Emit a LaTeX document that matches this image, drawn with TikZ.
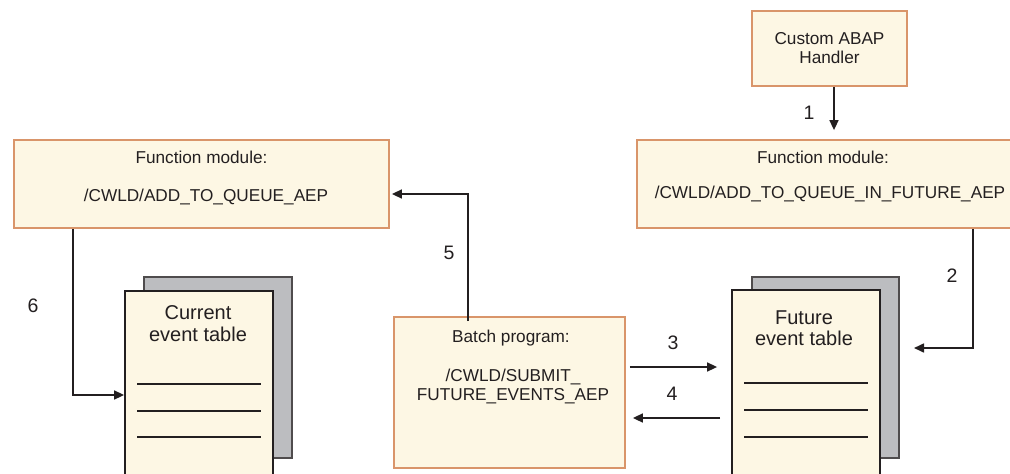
\documentclass[tikz,border=0pt]{standalone}
\usepackage{fontspec}
\setmainfont{Liberation Sans}
\usetikzlibrary{arrows.meta}
\definecolor{cream}{HTML}{FDF7E4}
\definecolor{boxborder}{HTML}{D9956A}
\definecolor{shadowgray}{HTML}{BCBDC0}
\definecolor{ink}{HTML}{231F20}
\tikzset{
  box/.style={draw=boxborder, line width=1.8pt, fill=cream, rectangle, inner sep=0pt},
  pageback/.style={draw=ink!80, line width=1.2pt, fill=shadowgray, rectangle, inner sep=0pt},
  pagefront/.style={draw=ink, line width=1.8pt, fill=cream, rectangle, inner sep=0pt},
  boxtext/.style={font=\fontsize{17.2}{19}\selectfont, text=ink, inner sep=0pt, align=center},
  tabletext/.style={font=\fontsize{20}{21.5}\selectfont, text=ink, inner sep=0pt, align=center},
  numtext/.style={font=\fontsize{19.5}{22}\selectfont, text=ink, inner sep=0pt},
  arr/.style={draw=ink, line width=1.6pt, -{Triangle[length=10pt,width=9pt]}},
  rule/.style={draw=ink, line width=1.6pt},
}
\begin{document}
\begin{tikzpicture}[x=1pt,y=-1pt]
\useasboundingbox (0,0) rectangle (1010,474);
\clip (0,0) rectangle (1010,474);
\fill[white] (0,0) rectangle (1010,474);

% boxes
\node[box, minimum width=155pt, minimum height=75pt] (custom) at (829.5,48.5) {};
\node[boxtext] (customtxt) at (829.5,48.5) {Custom ABAP\\Handler};

\node[box, minimum width=375pt, minimum height=88pt] (fleft) at (201.5,184) {};
\node[boxtext] (flefta) at (201.5,157) {Function module:};
\node[boxtext] (fleftb) at (206,197) {/CWLD/ADD\_TO\_QUEUE\_AEP};

\node[box, minimum width=380pt, minimum height=88pt] (fright) at (827,184) {};
\node[boxtext] (frighta) at (823,157) {Function module:};
\node[boxtext] (frightb) at (830,194) {/CWLD/ADD\_TO\_QUEUE\_IN\_FUTURE\_AEP};

\node[box, minimum width=231pt, minimum height=151pt] (batch) at (509.5,392.5) {};
\node[boxtext] (batcha) at (511,338) {Batch program:};
\node[boxtext] (batchb) at (513,386.5) {/CWLD/SUBMIT\_\\FUTURE\_EVENTS\_AEP};

% current event table
\node[pageback, minimum width=148pt, minimum height=181pt] (curshadow) at (218,367.5) {};
\node[pagefront, minimum width=148pt, minimum height=200pt] (curpage) at (199,391) {};
\node[tabletext] (curtxt) at (198,323.5) {Current\\event table};
\draw[rule] (137,384) -- (261,384);
\draw[rule] (137,411) -- (261,411);
\draw[rule] (137,437) -- (261,437);

% future event table
\node[pageback, minimum width=147pt, minimum height=181pt] (futshadow) at (825.5,367.5) {};
\node[pagefront, minimum width=148pt, minimum height=200pt] (futpage) at (806,390) {};
\node[tabletext] (futtxt) at (804,328) {Future\\event table};
\draw[rule] (744,383) -- (868,383);
\draw[rule] (744,410) -- (868,410);
\draw[rule] (744,437) -- (868,437);

% connector coordinates
\coordinate (x1) at (834,0);
\coordinate (c2) at (973,348);
\coordinate (t2) at (914,348);
\coordinate (y3) at (0,367);
\coordinate (y4) at (0,418);
\coordinate (c5) at (468,194);
\coordinate (c6) at (73,395);

% connectors
\draw[arr, shorten >=9pt] (custom.south -| x1) -- (fright.north -| x1);
\draw[arr] (fright.south -| c2) -- (c2) -- (t2);
\draw[arr, shorten <=4pt, shorten >=14pt] (batch.east |- y3) -- (futpage.west |- y3);
\draw[arr, shorten <=11pt, shorten >=7pt] (futpage.west |- y4) -- (batch.east |- y4);
\draw[arr, shorten >=2pt] ([yshift=-5pt]batch.north -| c5) -- (c5) -- (fleft.east |- c5);
\draw[arr] (fleft.south -| c6) -- (c6) -- (curpage.west |- c6);

% labels
\node[numtext] (n1) at (809,113) {1};
\node[numtext] (n2) at (952,276) {2};
\node[numtext] (n3) at (673,343) {3};
\node[numtext] (n4) at (672,394) {4};
\node[numtext] (n5) at (449,253) {5};
\node[numtext] (n6) at (33,306) {6};
\end{tikzpicture}
\end{document}
